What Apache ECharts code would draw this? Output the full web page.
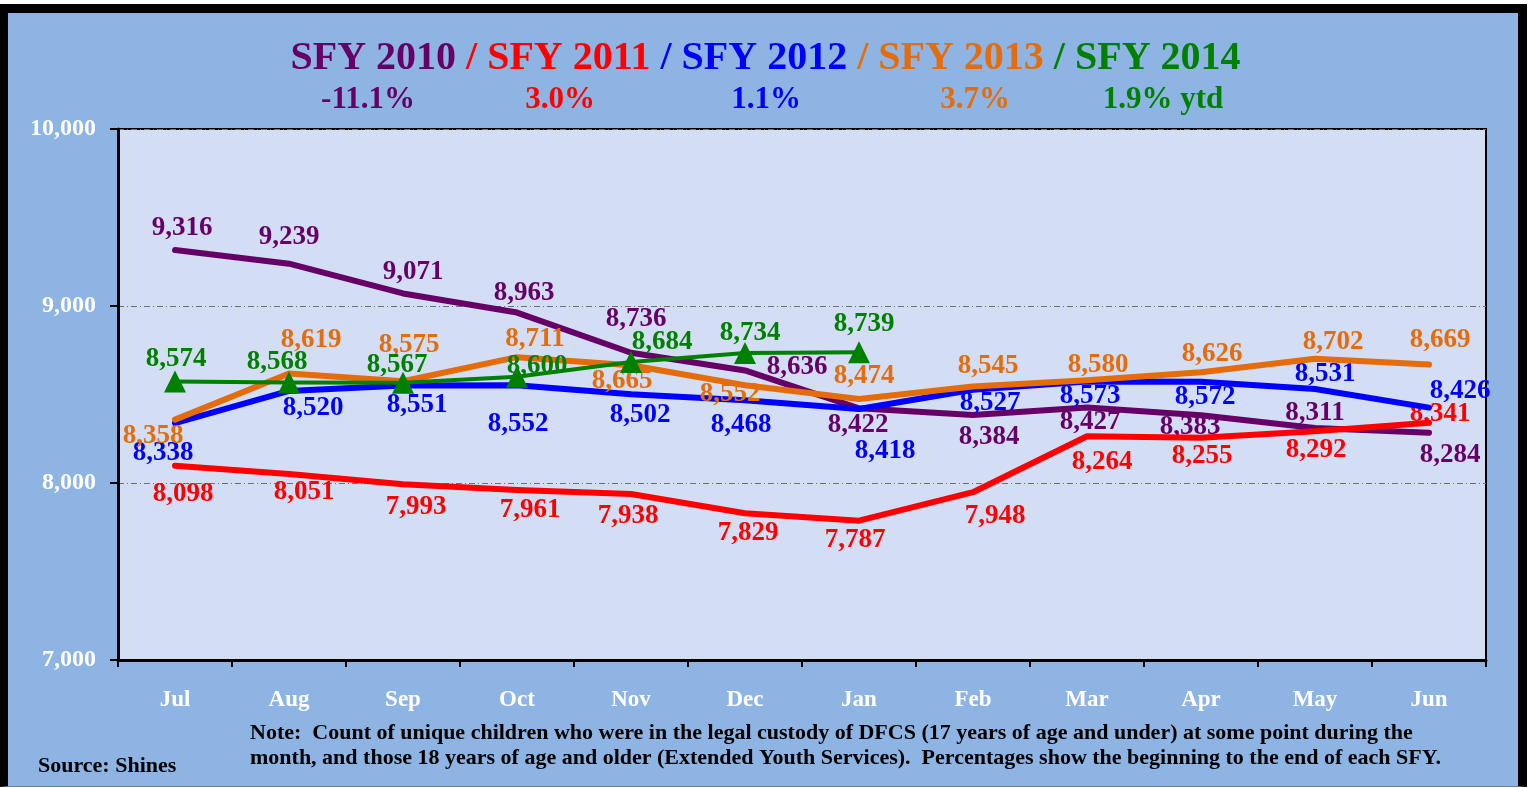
<!DOCTYPE html>
<html>
<head>
<meta charset="utf-8">
<script src="https://cdn.jsdelivr.net/npm/echarts@6/dist/echarts.min.js"></script>
<style>
  html, body { margin: 0; padding: 0; background: #ffffff; }
  #wrap { position: relative; width: 1531px; height: 788px; overflow: hidden; background: #ffffff; }
  #frame { position: absolute; left: 0; top: 4px; width: 1527px; height: 783px; box-sizing: border-box;
           background: #8eb4e3; border-left: 8px solid #000; border-top: 9px solid #000;
           border-right: 9px solid #000; border-bottom: 1px solid #6d7f99; }
  #chart { position: absolute; left: 0; top: 0; width: 1531px; height: 788px; }
</style>
</head>
<body>
<div id="wrap">
  <div id="frame"></div>
  <div id="chart"></div>
</div>
<script>
// ---- data ----
const months = ['Jul','Aug','Sep','Oct','Nov','Dec','Jan','Feb','Mar','Apr','May','Jun'];
const sfy2010 = [9316, 9239, 9071, 8963, 8736, 8636, 8422, 8384, 8427, 8383, 8311, 8284];
const sfy2011 = [8098, 8051, 7993, 7961, 7938, 7829, 7787, 7948, 8264, 8255, 8292, 8341];
const sfy2012 = [8338, 8520, 8551, 8552, 8502, 8468, 8418, 8527, 8573, 8572, 8531, 8426];
const sfy2013 = [8358, 8619, 8575, 8711, 8665, 8552, 8474, 8545, 8580, 8626, 8702, 8669];
const sfy2014 = [8574, 8568, 8567, 8600, 8684, 8734, 8739];
const yTicks = [7000, 8000, 9000, 10000];
const pctLabels = ['-11.1%', '3.0%', '1.1%', '3.7%', '1.9% ytd'];
const seriesNames = ['SFY 2010', 'SFY 2011', 'SFY 2012', 'SFY 2013', 'SFY 2014'];

// ---- styling / label placement (kept separate from data) ----
const colors = ['#660066', '#ff0000', '#0000ff', '#e46c0a', '#008000'];
const off2010 = [[7,-22],[0,-27],[10,-21],[7,-20],[5,-34],[52,-3],[-1,17],[16,22],[3,15],[-11,12],[0,-15],[21,22]];
const off2011 = [[8,28],[15,18],[13,23],[13,20],[-3,22],[3,20],[-4,19],[22,24],[15,26],[1,18],[1,19],[11,-9]];
const off2012 = [[-12,30],[24,17],[14,20],[1,39],[9,21],[-4,25],[26,42],[17,13],[3,14],[4,15],[10,-15],[31,-17]];
const off2013 = [[-22,16],[22,-33],[6,-36],[18,-18],[-9,16],[-15,9],[5,-23],[15,-21],[11,-15],[11,-18],[18,-17],[11,-25]];
const off2014 = [[1,-22],[-12,-20],[-6,-18],[20,-11],[31,-20],[5,-20],[5,-28]];

const FONT = "'Liberation Serif', 'Times New Roman', serif";
const fmt = v => v.toLocaleString('en-US');

function mkData(vals, offs) {
  return vals.map((v, i) => ({ value: v, label: { offset: offs[i] } }));
}

function mkSeries(idx, vals, offs, opts) {
  return Object.assign({
    name: seriesNames[idx],
    type: 'line',
    data: mkData(vals, offs),
    symbol: 'circle',
    symbolSize: 1,
    showSymbol: true,
    z: 2 + idx,
    itemStyle: { color: colors[idx] },
    lineStyle: { color: colors[idx], width: 6, cap: 'round', join: 'round' },
    label: {
      show: true, position: 'inside', color: colors[idx],
      fontFamily: FONT, fontWeight: 'bold', fontSize: 27,
      align: 'center', verticalAlign: 'middle',
      formatter: p => fmt(p.value)
    },
    emphasis: { disabled: true },
    animation: false
  }, opts || {});
}

const chart = echarts.init(document.getElementById('chart'), null, { renderer: 'canvas' });

const titleRich = {};
colors.forEach((c, i) => { titleRich['s' + i] = { color: c, fontFamily: FONT, fontWeight: 'bold', fontSize: 40 }; });
titleRich.sl0 = { color: colors[1], fontFamily: FONT, fontWeight: 'bold', fontSize: 40 };
titleRich.sl1 = { color: colors[2], fontFamily: FONT, fontWeight: 'bold', fontSize: 40 };
titleRich.sl2 = { color: colors[3], fontFamily: FONT, fontWeight: 'bold', fontSize: 40 };
titleRich.sl3 = { color: colors[4], fontFamily: FONT, fontWeight: 'bold', fontSize: 40 };
let titleText = '';
seriesNames.forEach((n, i) => {
  titleText += '{s' + i + '|' + n + '}';
  if (i < seriesNames.length - 1) titleText += '{sl' + i + '| / }';
});

const pctX = [368, 560, 766, 975, 1163];
const graphics = pctLabels.map((t, i) => ({
  type: 'text', x: pctX[i], y: 100,
  style: { text: t, fill: colors[i], font: 'bold 31px ' + FONT, align: 'center', verticalAlign: 'middle' }
}));
graphics.push({
  type: 'text', x: 250, y: 733,
  style: { text: 'Note:  Count of unique children who were in the legal custody of DFCS (17 years of age and under) at some point during the',
           fill: '#000', font: 'bold 22px ' + FONT, align: 'left', verticalAlign: 'middle' }
});
graphics.push({
  type: 'text', x: 250, y: 758,
  style: { text: 'month, and those 18 years of age and older (Extended Youth Services).  Percentages show the beginning to the end of each SFY.',
           fill: '#000', font: 'bold 22px ' + FONT, align: 'left', verticalAlign: 'middle' }
});
graphics.push({
  type: 'text', x: 38, y: 766,
  style: { text: 'Source: Shines', fill: '#000', font: 'bold 22px ' + FONT, align: 'left', verticalAlign: 'middle' }
});

chart.setOption({
  backgroundColor: 'transparent',
  animation: false,
  title: {
    text: titleText, left: 'center', top: 34,
    textStyle: { rich: titleRich }
  },
  grid: {
    left: 118, top: 129, right: 45, bottom: 128,
    show: true, backgroundColor: '#d3def5', borderColor: '#000', borderWidth: 2
  },
  xAxis: {
    type: 'category', data: months, boundaryGap: true,
    axisLine: { show: true, lineStyle: { color: '#000', width: 3 } },
    axisTick: { show: true, length: 7, lineStyle: { color: '#000', width: 2 } },
    axisLabel: { color: '#fff', fontFamily: FONT, fontWeight: 'bold', fontSize: 23, margin: 29 },
    splitLine: { show: false }
  },
  yAxis: {
    type: 'value', min: yTicks[0], max: yTicks[yTicks.length - 1], interval: 1000,
    axisLine: { show: true, lineStyle: { color: '#000', width: 3 } },
    axisTick: { show: true, length: 8, lineStyle: { color: '#000', width: 2 } },
    axisLabel: { color: '#fff', fontFamily: FONT, fontWeight: 'bold', fontSize: 24, margin: 22,
                 formatter: v => fmt(v) },
    splitLine: { show: true, lineStyle: { color: '#707070', width: 1, type: [6, 3, 1, 3] } }
  },
  series: [
    mkSeries(0, sfy2010, off2010),
    mkSeries(1, sfy2011, off2011),
    mkSeries(2, sfy2012, off2012),
    mkSeries(3, sfy2013, off2013),
    mkSeries(4, sfy2014, off2014, {
      symbol: 'triangle', symbolSize: 22,
      lineStyle: { color: colors[4], width: 4, cap: 'round', join: 'round' }
    })
  ],
  graphic: graphics
});
</script>
</body>
</html>
